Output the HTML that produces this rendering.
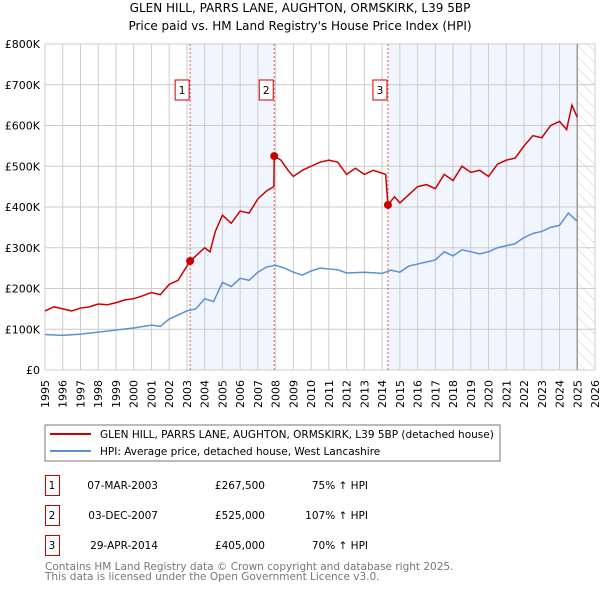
<!DOCTYPE html>
<html><head><meta charset="utf-8"><style>
body{margin:0;background:#fff;font-family:"DejaVu Sans","Liberation Sans",sans-serif;}
svg text{font-family:"DejaVu Sans","Liberation Sans",sans-serif;}
</style></head><body>
<svg id="chart" width="600" height="590" xmlns="http://www.w3.org/2000/svg">
<defs><pattern id="hatch" width="8" height="8" patternUnits="userSpaceOnUse" patternTransform="rotate(-45)"><line x1="0" y1="0" x2="0" y2="8" stroke="#ccc" stroke-width="1"/></pattern></defs>
<text x="300" y="12" font-size="12" text-anchor="middle">GLEN HILL, PARRS LANE, AUGHTON, ORMSKIRK, L39 5BP</text>
<text x="300" y="30" font-size="12" text-anchor="middle">Price paid vs. HM Land Registry's House Price Index (HPI)</text>
<g id="plot"></g>
<rect x="45" y="425" width="455" height="36" fill="#fff" stroke="#777"/>
<line x1="50" y1="434" x2="91" y2="434" stroke="#cc0000" stroke-width="2"/>
<text x="100" y="438" font-size="10.5">GLEN HILL, PARRS LANE, AUGHTON, ORMSKIRK, L39 5BP (detached house)</text>
<line x1="50" y1="451" x2="91" y2="451" stroke="#5b8fd6" stroke-width="2"/>
<text x="100" y="455" font-size="10.5">HPI: Average price, detached house, West Lancashire</text>
<g id="table" font-size="10.5"></g>
<text x="45" y="570" font-size="10.5" fill="#777">Contains HM Land Registry data © Crown copyright and database right 2025.</text>
<text x="45" y="580" font-size="10.5" fill="#777">This data is licensed under the Open Government Licence v3.0.</text>
</svg>
<script>
const yearTicks=[1995,1996,1997,1998,1999,2000,2001,2002,2003,2004,2005,2006,2007,2008,2009,2010,2011,2012,2013,2014,2015,2016,2017,2018,2019,2020,2021,2022,2023,2024,2025,2026];
const valueTicks=[0,100,200,300,400,500,600,700,800];
const valueTickLabels=["£0","£100K","£200K","£300K","£400K","£500K","£600K","£700K","£800K"];
const priceYears=[1995,1995.5,1996,1996.5,1997,1997.5,1998,1998.5,1999,1999.5,2000,2000.5,2001,2001.5,2002,2002.5,2003,2003.18,2003.5,2004,2004.3,2004.6,2005,2005.5,2006,2006.5,2007,2007.5,2007.9,2007.92,2008.3,2008.7,2009,2009.5,2010,2010.5,2011,2011.5,2012,2012.5,2013,2013.5,2014.2,2014.33,2014.7,2015,2015.5,2016,2016.5,2017,2017.5,2018,2018.5,2019,2019.5,2020,2020.5,2021,2021.5,2022,2022.5,2023,2023.5,2024,2024.4,2024.7,2025];
const priceValues=[145,155,150,145,152,155,162,160,165,172,175,182,190,185,210,220,255,267,280,300,290,340,380,360,390,385,420,440,450,525,515,490,475,490,500,510,515,510,480,495,480,490,480,405,425,410,430,450,455,445,480,465,500,485,490,475,505,515,520,550,575,570,600,610,590,650,620];
const hpiYears=[1995,1996,1997,1998,1999,2000,2001,2001.5,2002,2003,2003.5,2004,2004.5,2005,2005.5,2006,2006.5,2007,2007.5,2008,2008.5,2009,2009.5,2010,2010.5,2011,2011.5,2012,2013,2014,2014.5,2015,2015.5,2016,2016.5,2017,2017.5,2018,2018.5,2019,2019.5,2020,2020.5,2021,2021.5,2022,2022.5,2023,2023.5,2024,2024.5,2025];
const hpiValues=[87,85,88,93,98,103,110,107,125,145,150,175,168,215,205,225,220,240,253,257,250,240,233,243,250,248,246,238,240,237,245,240,255,260,265,270,290,280,295,290,285,290,300,305,310,325,335,340,350,355,385,365];
const saleYears=[2003.18,2007.92,2014.33];
const saleValues=[267.5,525,405];
const saleLabels=["1","2","3"];
const saleDates=["07-MAR-2003","03-DEC-2007","29-APR-2014"];
const salePrices=["£267,500","£525,000","£405,000"];
const saleHpi=["75% ↑ HPI","107% ↑ HPI","70% ↑ HPI"];
const dataEnd=2025.0;

const X0=45,X1=595,Y0=370,Y1=44;
const x=y=>X0+(y-1995)/(2026-1995)*(X1-X0);
const yv=v=>Y0-v/800*(Y0-Y1);
const NS="http://www.w3.org/2000/svg";
const plot=document.getElementById('plot');
function mk(tag,attrs,parent){const e=document.createElementNS(NS,tag);for(const k in attrs)e.setAttribute(k,attrs[k]);(parent||plot).appendChild(e);return e;}

for(let i=0;i<saleYears.length;i+=2){
  const end=i+1<saleYears.length?saleYears[i+1]:dataEnd;
  const r=mk('rect',{x:x(saleYears[i]),y:Y1,width:x(end)-x(saleYears[i]),height:Y0-Y1,fill:'#eef3fc',opacity:0.8});
  
  
}
const h=mk('rect',{x:x(dataEnd),y:Y1,width:X1-x(dataEnd),height:Y0-Y1,fill:'url(#hatch)'});


yearTicks.forEach(t=>{
  const l=mk('line',{x1:x(t),x2:x(t),y1:Y1,y2:Y0,stroke:'#cccccc','stroke-width':1});
  
  
  const tx=mk('text',{x:0,y:0,'font-size':11,'text-anchor':'end',transform:`translate(${x(t)+4},380) rotate(-90)`});
  tx.textContent=t;
  
  
});
valueTicks.forEach((t,i)=>{
  const l=mk('line',{x1:X0,x2:X1,y1:yv(t),y2:yv(t),stroke:'#cccccc','stroke-width':1});
  
  
  const tx=mk('text',{x:40,y:yv(t)+4,'font-size':11,'text-anchor':'end'});
  tx.textContent=valueTickLabels[i];
  
  
});
const fr=mk('rect',{x:X0,y:Y1,width:X1-X0,height:Y0-Y1,fill:'none',stroke:'#cccccc'});


const dl=mk('line',{x1:x(dataEnd),x2:x(dataEnd),y1:Y1,y2:Y0,stroke:'#999','stroke-width':1.5});


saleYears.forEach((s,i)=>{
  const l=mk('line',{x1:x(s),x2:x(s),y1:Y1,y2:Y0,stroke:'#ee5555','stroke-width':1,'stroke-dasharray':'2,2'});
  
  
  const b=mk('rect',{x:x(s)-15,y:80,width:14,height:20,fill:'#fff',stroke:'#cc0000'});
  
  
  const t=mk('text',{x:x(s)-8,y:94,'font-size':10.5,'text-anchor':'middle'});
  t.textContent=saleLabels[i];
  
  
});
const hp=mk('polyline',{points:hpiYears.map((t,i)=>x(t)+','+yv(hpiValues[i])).join(' '),fill:'none',stroke:'#5b8fd6','stroke-width':1.5});


const pp=mk('polyline',{points:priceYears.map((t,i)=>x(t)+','+yv(priceValues[i])).join(' '),fill:'none',stroke:'#cc0000','stroke-width':1.5});


saleYears.forEach((s,i)=>{
  const c=mk('circle',{cx:x(s),cy:yv(saleValues[i]),r:4,fill:'#cc0000'});
  
  
});
const tb=document.getElementById('table');
saleLabels.forEach((s,i)=>{
  const yy=475+i*30;
  const b=mk('rect',{x:45.5,y:yy+0.5,width:14,height:20,fill:'#fff',stroke:'#cc0000'},tb);
  
  
  const cells=[[52,s,'middle'],[158,saleDates[i],'end'],[265,salePrices[i],'end'],[368,saleHpi[i],'end']];
  cells.forEach(c=>{
    const t=mk('text',{x:c[0],y:yy+14,'text-anchor':c[2]},tb);
    t.textContent=c[1];
    
    
  });
});
</script>
</body></html>
